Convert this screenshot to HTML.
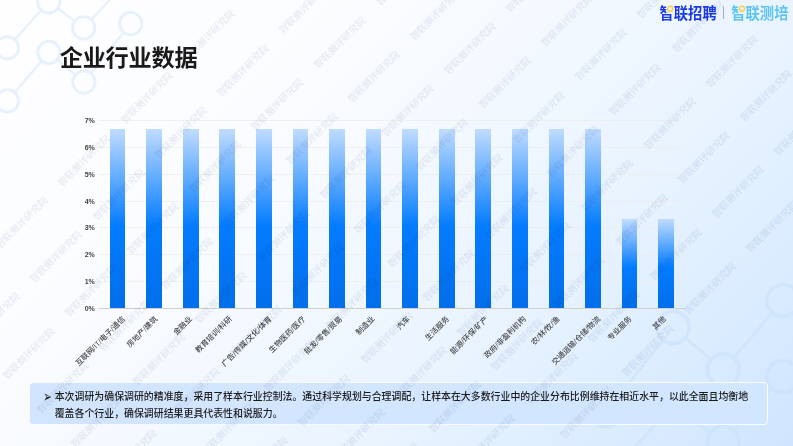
<!DOCTYPE html>
<html lang="zh-CN">
<head>
<meta charset="utf-8">
<title>企业行业数据</title>
<style>
html,body{margin:0;padding:0;}
body{width:793px;height:446px;overflow:hidden;position:relative;
  font-family:"Liberation Sans","Noto Sans CJK SC",sans-serif;
  background:#fdfdff;}
.page{position:absolute;left:0;top:0;width:793px;height:446px;overflow:hidden;
  background:linear-gradient(135deg,rgb(254,254,255) 0%,rgb(252,253,255) 20%,rgb(248,251,255) 38%,rgb(240,247,255) 52%,rgb(232,243,255) 67%,rgb(226,240,255) 75%,rgb(219,236,255) 84%,rgb(207,229,255) 100%);}
svg.deco,svg.chart,svg.rings{position:absolute;left:0;top:0;}
.title{position:absolute;left:59.7px;top:40.8px;font-size:23.2px;line-height:34px;font-weight:700;color:#1a1a1a;white-space:nowrap;letter-spacing:-0.24px;}
.logo{position:absolute;top:3.1px;height:20px;line-height:20px;font-size:14.35px;font-weight:700;white-space:nowrap;transform-origin:0 50%;}
.logo.a{left:659.4px;color:#1a3ae8;}
.logo.b{left:731.2px;color:#5cc3f7;}
.logo span{display:inline-block;transform:translateY(0.5px) scaleY(1.08);}
.sep{position:absolute;left:723.1px;top:7.2px;width:1px;height:11.5px;background:#96abdf;}
.chart text{font-family:"Liberation Sans","Noto Sans CJK SC",sans-serif;}
.chart .yl{font-size:7px;font-weight:700;fill:#444;}
.chart .xl{font-size:7.6px;fill:#4a4a4a;font-weight:500;}
.box{position:absolute;left:30px;top:383px;width:737.5px;height:41px;box-sizing:border-box;border-radius:3.5px;
  background:linear-gradient(90deg,#d2e5fe,#d2e6ff 50%,#d1e6ff);}
.box:before{content:"";position:absolute;border-radius:4px;padding:1px;left:-0.5px;right:-0.5px;top:-1.2px;bottom:-0.7px;
  background:linear-gradient(90deg,rgba(255,255,255,0) 0%,rgba(255,255,255,0.75) 55%,rgba(255,255,255,0.92) 100%);
  -webkit-mask:linear-gradient(#000 0 0) content-box,linear-gradient(#000 0 0);-webkit-mask-composite:xor;mask-composite:exclude;}
.box p{position:absolute;margin:0;left:24.7px;top:6.4px;width:696px;font-size:9.92px;line-height:16.9px;color:#1c1c1c;font-weight:500;}
.box .bul{position:absolute;left:13.2px;top:6.5px;transform:scale(0.93,1.45);transform-origin:50% 50%;font-size:11px;line-height:16.9px;color:#222;font-family:"DejaVu Sans","Liberation Sans",sans-serif;}
.wm{position:absolute;left:0;top:0;width:793px;height:446px;overflow:hidden;pointer-events:none;mix-blend-mode:multiply;}
.wm span{position:absolute;width:0;height:0;white-space:nowrap;font-family:"Liberation Serif","Noto Serif CJK SC",serif;font-size:9.8px;line-height:0;font-weight:500;color:#e4e7ed;}
.wm span{display:flex;align-items:center;justify-content:center;transform:rotate(-45deg);}
</style>
</head>
<body>
<div class="page">
<svg class="deco" width="793" height="446" viewBox="0 0 793 446">
<g fill="none" stroke="#e7f0fd" opacity="1">
<circle cx="48.8" cy="1.8" r="11.2" stroke-width="2.8"/>
<circle cx="83.7" cy="27.9" r="11.2" stroke-width="2.8"/>
<circle cx="130.7" cy="23.6" r="11.2" stroke-width="2.8"/>
<circle cx="7.3" cy="47.8" r="11.2" stroke-width="2.8"/>
<circle cx="48.9" cy="52.4" r="11.2" stroke-width="2.8"/>
<circle cx="83.9" cy="82.1" r="11.2" stroke-width="2.8"/>
<circle cx="7.3" cy="100.9" r="11.2" stroke-width="2.8"/>
<line x1="57.8" y1="8.5" x2="74.7" y2="21.2" stroke-width="2.3"/>
<line x1="41.3" y1="10.1" x2="14.8" y2="39.5" stroke-width="2.3"/>
<line x1="41.6" y1="60.9" x2="14.6" y2="92.4" stroke-width="2.3"/>
<line x1="57.4" y1="59.6" x2="75.4" y2="74.9" stroke-width="2.3"/>
<line x1="123.7" y1="32.3" x2="90.9" y2="73.4" stroke-width="2.3"/>
<line x1="91.3" y1="19.7" x2="110.7" y2="-1.2" stroke-width="2.3"/>
</g>
<g fill="none" stroke="#cbe3fc" opacity="0.68">
<circle cx="723.4" cy="442.3" r="16.0" stroke-width="3.8"/>
<circle cx="673.5" cy="405.0" r="16.0" stroke-width="3.8"/>
<circle cx="606.3" cy="411.2" r="16.0" stroke-width="3.8"/>
<circle cx="782.8" cy="376.5" r="16.0" stroke-width="3.8"/>
<circle cx="723.3" cy="370.0" r="16.0" stroke-width="3.8"/>
<circle cx="673.2" cy="327.5" r="16.0" stroke-width="3.8"/>
<circle cx="782.8" cy="300.6" r="16.0" stroke-width="3.8"/>
<line x1="710.6" y1="432.7" x2="686.3" y2="414.6" stroke-width="3.0"/>
<line x1="734.1" y1="430.4" x2="772.0" y2="388.4" stroke-width="3.0"/>
<line x1="733.7" y1="357.8" x2="772.3" y2="312.8" stroke-width="3.0"/>
<line x1="711.1" y1="359.6" x2="685.4" y2="337.9" stroke-width="3.0"/>
<line x1="616.3" y1="398.6" x2="663.2" y2="340.0" stroke-width="3.0"/>
<line x1="662.6" y1="416.7" x2="634.9" y2="446.6" stroke-width="3.0"/>
</g>
</svg>
<div class="title">企业行业数据</div>
<div class="logo a"><span>智联招聘</span></div>
<div class="sep"></div>
<div class="logo b"><span>智联测培</span></div>
<svg class="rings" width="793" height="30" viewBox="0 0 793 30">
<rect x="666.4" y="4.3" width="7.6" height="8.9" rx="3.2" fill="#eef5ff"/>
<rect x="738.3" y="4.3" width="7.6" height="8.9" rx="3.2" fill="#e8f2ff"/>
<circle cx="670.1" cy="8.7" r="2.5" fill="none" stroke="#ffcb1e" stroke-width="1.2"/>
<circle cx="742.0" cy="8.7" r="2.5" fill="none" stroke="#ffcb1e" stroke-width="1.2"/>
<path d="M669.3 11.3 L670.1 12.4 L670.9 11.3 Z" fill="#ffcb1e"/>
<path d="M741.2 11.3 L742.0 12.4 L742.8 11.3 Z" fill="#ffcb1e"/>
</svg>
<svg class="chart" width="793" height="446" viewBox="0 0 793 446">
<defs><linearGradient id="bg" gradientUnits="userSpaceOnUse" x1="0" y1="129" x2="0" y2="308"><stop offset="0" stop-color="#c0dcff"/><stop offset="0.54" stop-color="#047cff"/><stop offset="1" stop-color="#026eea"/></linearGradient><linearGradient id="bg2" gradientUnits="userSpaceOnUse" x1="0" y1="219" x2="0" y2="308"><stop offset="0" stop-color="#c0dcff"/><stop offset="0.54" stop-color="#047cff"/><stop offset="1" stop-color="#026eea"/></linearGradient></defs>
<rect x="99" y="281" width="585.5" height="1" fill="#ebebe8" opacity="0.7"/>
<rect x="99" y="254" width="585.5" height="1" fill="#ebebe8" opacity="0.7"/>
<rect x="99" y="227" width="585.5" height="1" fill="#ebebe8" opacity="0.7"/>
<rect x="99" y="201" width="585.5" height="1" fill="#ebebe8" opacity="0.7"/>
<rect x="99" y="174" width="585.5" height="1" fill="#ebebe8" opacity="0.7"/>
<rect x="99" y="147" width="585.5" height="1" fill="#ebebe8" opacity="0.7"/>
<rect x="99" y="120" width="585.5" height="1" fill="#ebebe8" opacity="0.7"/>
<rect x="110" y="129" width="15" height="179" fill="url(#bg)"/>
<rect x="146" y="129" width="16" height="179" fill="url(#bg)"/>
<rect x="183" y="129" width="16" height="179" fill="url(#bg)"/>
<rect x="219" y="129" width="16" height="179" fill="url(#bg)"/>
<rect x="256" y="129" width="16" height="179" fill="url(#bg)"/>
<rect x="293" y="129" width="15" height="179" fill="url(#bg)"/>
<rect x="329" y="129" width="16" height="179" fill="url(#bg)"/>
<rect x="366" y="129" width="15" height="179" fill="url(#bg)"/>
<rect x="402" y="129" width="16" height="179" fill="url(#bg)"/>
<rect x="439" y="129" width="16" height="179" fill="url(#bg)"/>
<rect x="475" y="129" width="16" height="179" fill="url(#bg)"/>
<rect x="512" y="129" width="16" height="179" fill="url(#bg)"/>
<rect x="549" y="129" width="15" height="179" fill="url(#bg)"/>
<rect x="585" y="129" width="16" height="179" fill="url(#bg)"/>
<rect x="622" y="219" width="15" height="89" fill="url(#bg2)"/>
<rect x="658" y="219" width="16" height="89" fill="url(#bg2)"/>
<rect x="99" y="308" width="585.5" height="1" fill="#d0d0d0"/>
<text class="yl" x="94.8" y="311.10" text-anchor="end">0%</text>
<text class="yl" x="94.8" y="284.10" text-anchor="end">1%</text>
<text class="yl" x="94.8" y="257.10" text-anchor="end">2%</text>
<text class="yl" x="94.8" y="230.10" text-anchor="end">3%</text>
<text class="yl" x="94.8" y="204.10" text-anchor="end">4%</text>
<text class="yl" x="94.8" y="177.10" text-anchor="end">5%</text>
<text class="yl" x="94.8" y="150.10" text-anchor="end">6%</text>
<text class="yl" x="94.8" y="123.10" text-anchor="end">7%</text>
<text class="xl" text-anchor="end" transform="translate(125.54 319.50) rotate(-45)">互联网/IT/电子/通信</text>
<text class="xl" text-anchor="end" transform="translate(158.11 319.50) rotate(-45)">房地产/建筑</text>
<text class="xl" text-anchor="end" transform="translate(192.52 319.50) rotate(-45)">金融业</text>
<text class="xl" text-anchor="end" transform="translate(232.25 319.50) rotate(-45)">教育培训/科研</text>
<text class="xl" text-anchor="end" transform="translate(272.16 319.50) rotate(-45)">广告/传媒/文化/体育</text>
<text class="xl" text-anchor="end" transform="translate(305.75 319.50) rotate(-45)">生物医药/医疗</text>
<text class="xl" text-anchor="end" transform="translate(342.57 319.50) rotate(-45)">批发/零售/贸易</text>
<text class="xl" text-anchor="end" transform="translate(375.02 319.50) rotate(-45)">制造业</text>
<text class="xl" text-anchor="end" transform="translate(410.38 319.50) rotate(-45)">汽车</text>
<text class="xl" text-anchor="end" transform="translate(449.66 319.50) rotate(-45)">生活服务</text>
<text class="xl" text-anchor="end" transform="translate(488.57 319.50) rotate(-45)">能源/环保/矿产</text>
<text class="xl" text-anchor="end" transform="translate(526.39 319.50) rotate(-45)">政府/非盈利机构</text>
<text class="xl" text-anchor="end" transform="translate(560.11 319.50) rotate(-45)">农/林/牧/渔</text>
<text class="xl" text-anchor="end" transform="translate(600.85 319.50) rotate(-45)">交通运输/仓储/物流</text>
<text class="xl" text-anchor="end" transform="translate(632.16 319.50) rotate(-45)">专业服务</text>
<text class="xl" text-anchor="end" transform="translate(666.38 319.50) rotate(-45)">其他</text>
</svg>
<div class="box"><span class="bul">➢</span><p>本次调研为确保调研的精准度，采用了样本行业控制法。通过科学规划与合理调配，让样本在大多数行业中的企业分布比例维持在相近水平，以此全面且均衡地覆盖各个行业，确保调研结果更具代表性和说服力。</p></div>
<div class="wm">
<span style="left:22.1px;top:222.8px">智联测评研究院</span>
<span style="left:84.3px;top:160.6px">智联测评研究院</span>
<span style="left:146.5px;top:98.4px">智联测评研究院</span>
<span style="left:208.7px;top:36.2px">智联测评研究院</span>
<span style="left:270.9px;top:-26.0px">智联测评研究院</span>
<span style="left:-5.8px;top:319.3px">智联测评研究院</span>
<span style="left:56.4px;top:257.1px">智联测评研究院</span>
<span style="left:118.6px;top:194.9px">智联测评研究院</span>
<span style="left:180.8px;top:132.7px">智联测评研究院</span>
<span style="left:243.0px;top:70.5px">智联测评研究院</span>
<span style="left:305.2px;top:8.3px">智联测评研究院</span>
<span style="left:28.5px;top:353.6px">智联测评研究院</span>
<span style="left:90.7px;top:291.4px">智联测评研究院</span>
<span style="left:152.9px;top:229.2px">智联测评研究院</span>
<span style="left:215.1px;top:167.0px">智联测评研究院</span>
<span style="left:277.3px;top:104.8px">智联测评研究院</span>
<span style="left:339.5px;top:42.6px">智联测评研究院</span>
<span style="left:401.7px;top:-19.6px">智联测评研究院</span>
<span style="left:62.8px;top:387.9px">智联测评研究院</span>
<span style="left:125.0px;top:325.7px">智联测评研究院</span>
<span style="left:187.2px;top:263.5px">智联测评研究院</span>
<span style="left:249.4px;top:201.3px">智联测评研究院</span>
<span style="left:311.6px;top:139.1px">智联测评研究院</span>
<span style="left:373.8px;top:76.9px">智联测评研究院</span>
<span style="left:436.0px;top:14.7px">智联测评研究院</span>
<span style="left:97.0px;top:422.1px">智联测评研究院</span>
<span style="left:159.2px;top:359.9px">智联测评研究院</span>
<span style="left:221.4px;top:297.7px">智联测评研究院</span>
<span style="left:283.6px;top:235.5px">智联测评研究院</span>
<span style="left:345.8px;top:173.3px">智联测评研究院</span>
<span style="left:408.0px;top:111.1px">智联测评研究院</span>
<span style="left:470.2px;top:48.9px">智联测评研究院</span>
<span style="left:532.4px;top:-13.3px">智联测评研究院</span>
<span style="left:131.3px;top:456.4px">智联测评研究院</span>
<span style="left:193.5px;top:394.2px">智联测评研究院</span>
<span style="left:255.7px;top:332.0px">智联测评研究院</span>
<span style="left:317.9px;top:269.8px">智联测评研究院</span>
<span style="left:380.1px;top:207.6px">智联测评研究院</span>
<span style="left:442.3px;top:145.4px">智联测评研究院</span>
<span style="left:504.5px;top:83.2px">智联测评研究院</span>
<span style="left:566.7px;top:21.0px">智联测评研究院</span>
<span style="left:227.8px;top:428.5px">智联测评研究院</span>
<span style="left:290.0px;top:366.3px">智联测评研究院</span>
<span style="left:352.2px;top:304.1px">智联测评研究院</span>
<span style="left:414.4px;top:241.9px">智联测评研究院</span>
<span style="left:476.6px;top:179.7px">智联测评研究院</span>
<span style="left:538.8px;top:117.5px">智联测评研究院</span>
<span style="left:601.0px;top:55.3px">智联测评研究院</span>
<span style="left:663.2px;top:-6.9px">智联测评研究院</span>
<span style="left:262.1px;top:462.8px">智联测评研究院</span>
<span style="left:324.3px;top:400.6px">智联测评研究院</span>
<span style="left:386.5px;top:338.4px">智联测评研究院</span>
<span style="left:448.7px;top:276.2px">智联测评研究院</span>
<span style="left:510.9px;top:214.0px">智联测评研究院</span>
<span style="left:573.1px;top:151.8px">智联测评研究院</span>
<span style="left:635.3px;top:89.6px">智联测评研究院</span>
<span style="left:697.5px;top:27.4px">智联测评研究院</span>
<span style="left:358.6px;top:434.9px">智联测评研究院</span>
<span style="left:420.8px;top:372.7px">智联测评研究院</span>
<span style="left:483.0px;top:310.5px">智联测评研究院</span>
<span style="left:545.2px;top:248.3px">智联测评研究院</span>
<span style="left:607.4px;top:186.1px">智联测评研究院</span>
<span style="left:669.6px;top:123.9px">智联测评研究院</span>
<span style="left:731.8px;top:61.7px">智联测评研究院</span>
<span style="left:392.8px;top:469.1px">智联测评研究院</span>
<span style="left:455.0px;top:406.9px">智联测评研究院</span>
<span style="left:517.2px;top:344.7px">智联测评研究院</span>
<span style="left:579.4px;top:282.5px">智联测评研究院</span>
<span style="left:641.6px;top:220.3px">智联测评研究院</span>
<span style="left:703.8px;top:158.1px">智联测评研究院</span>
<span style="left:766.0px;top:95.9px">智联测评研究院</span>
<span style="left:489.3px;top:441.2px">智联测评研究院</span>
<span style="left:551.5px;top:379.0px">智联测评研究院</span>
<span style="left:613.7px;top:316.8px">智联测评研究院</span>
<span style="left:675.9px;top:254.6px">智联测评研究院</span>
<span style="left:738.1px;top:192.4px">智联测评研究院</span>
<span style="left:800.3px;top:130.2px">智联测评研究院</span>
<span style="left:523.6px;top:475.5px">智联测评研究院</span>
<span style="left:585.8px;top:413.3px">智联测评研究院</span>
<span style="left:648.0px;top:351.1px">智联测评研究院</span>
<span style="left:710.2px;top:288.9px">智联测评研究院</span>
<span style="left:772.4px;top:226.7px">智联测评研究院</span>
</div>
</div>
</body>
</html>
